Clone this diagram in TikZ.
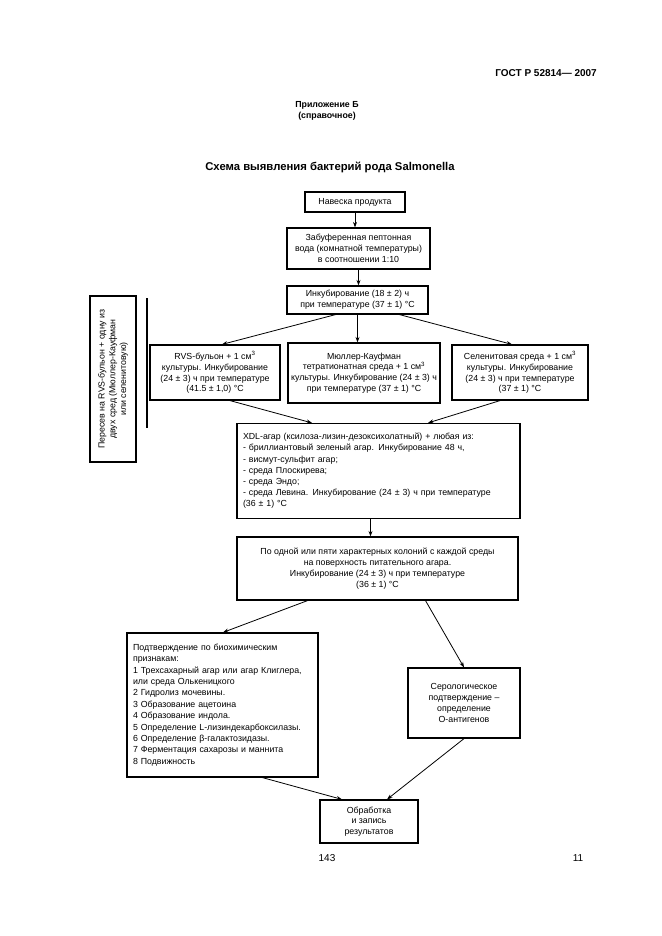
\documentclass[tikz,border=0pt]{standalone}
\usepackage{fontspec}
\setmainfont{Liberation Sans}
\usetikzlibrary{arrows.meta}
\begin{document}
\begin{tikzpicture}[x=1pt,y=-1pt,
 box/.style={draw,line width=1.2pt,inner sep=1.5pt,align=center,font=\fontsize{8.8}{10.8}\selectfont},
 arr/.style={line width=0.8pt,-{Stealth[length=5.5pt,width=4pt]}},
 plain/.style={inner sep=0pt}
]
\useasboundingbox[fill=white] (0,0) rectangle (661,936);

\node[plain,anchor=east,font=\bfseries\fontsize{10}{12}\selectfont] (hdr) at (597,73) {ГОСТ Р 52814— 2007};
\node[plain,align=center,font=\bfseries\fontsize{8.8}{11.5}\selectfont] (app) at (327,111) {Приложение Б\\(справочное)};
\node[plain,font=\bfseries\fontsize{11.3}{13}\selectfont] (ttl) at (330,167) {Схема выявления бактерий рода Salmonella};

\node[box,minimum width=100pt,minimum height=20pt] (b1) at (355,202) {Навеска продукта};
\node[box,minimum width=143pt,minimum height=41pt] (b2) at (358.5,248.5) {Забуференная пептонная\\вода (комнатной температуры)\\в соотношении 1:10};
\node[box,minimum width=141pt,minimum height=28pt] (b3) at (357.5,300) {Инкубирование (18 ± 2) ч\\при температуре (37 ± 1) °С};

\node[box,rotate=90,minimum width=166pt,minimum height=46pt] (side) at (113,379) {Пересев на RVS-бульон + одну из\\двух сред (Мюллер-Кауфман\\или селенитовую)};
\coordinate (lt) at (147,298);
\coordinate (lb) at (147,428);
\draw[line width=1.2pt] (lt) -- (lb);

\node[box,minimum width=130pt,minimum height=55pt] (rvs) at (215,372.5) {RVS-бульон + 1 см\textsuperscript{3}\\культуры. Инкубирование\\(24 ± 3) ч при температуре\\(41.5 ± 1,0) °С};
\node[box,minimum width=152pt,minimum height=60pt] (mk) at (364,373) {Мюллер-Кауфман\\тетратионатная среда + 1 см\textsuperscript{3}\\культуры. Инкубирование (24 ± 3) ч\\при температуре (37 ± 1) °С};
\node[box,minimum width=136pt,minimum height=55pt] (sel) at (520,372.5) {Селенитовая среда + 1 см\textsuperscript{3}\\культуры. Инкубирование\\(24 ± 3) ч при температуре\\(37 ± 1) °С};

\node[box,minimum width=283pt,minimum height=95pt,inner xsep=5pt,text width=271pt,align=left,font=\fontsize{8.8}{11.2}\selectfont] (xdl) at (378.5,471) {XDL-агар (ксилоза-лизин-дезоксихолатный) + любая из:\\- бриллиантовый зеленый агар. Инкубирование 48 ч,\\- висмут-сульфит агар;\\- среда Плоскирева;\\- среда Эндо;\\- среда Левина. Инкубирование (24 ± 3) ч при температуре\\(36 ± 1) °С};

\node[box,minimum width=281pt,minimum height=63pt] (b6) at (377.5,568.5) {По одной или пяти характерных колоний с каждой среды\\на поверхность питательного агара.\\Инкубирование (24 ± 3) ч при температуре\\(36 ± 1) °С};

\node[box,minimum width=191pt,minimum height=144pt,inner xsep=5pt,text width=179pt,align=left,font=\fontsize{8.8}{11.4}\selectfont] (bio) at (222.5,705) {Подтверждение по биохимическим\\признакам:\\1 Трехсахарный агар или агар Клиглера,\\или среда Олькеницкого\\2 Гидролиз мочевины.\\3 Образование ацетоина\\4 Образование индола.\\5 Определение L-лизиндекарбоксилазы.\\6 Определение β-галактозидазы.\\7 Ферментация сахарозы и маннита\\8 Подвижность};

\node[box,minimum width=112pt,minimum height=70pt] (ser) at (464,703) {Серологическое\\подтверждение –\\определение\\О-антигенов};

\node[box,minimum width=98pt,minimum height=43pt] (fin) at (369,821.5) {Обработка\\и запись\\результатов};

\node[plain,font=\fontsize{10}{12}\selectfont] (p1) at (327,858) {143};
\node[plain,font=\fontsize{10}{12}\selectfont] (p2) at (578,858) {11};

\draw[arr] (b1.south) -- (b1.south |- b2.north);
\draw[arr] (b2.south) -- (b2.south |- b3.north);
\draw[arr] ([xshift=-22pt]b3.south) -- ([xshift=7pt]rvs.north);
\draw[arr] (b3.south) -- (b3.south |- mk.north);
\draw[arr] ([xshift=42pt]b3.south) -- ([xshift=-8pt]sel.north);
\draw[arr] ([xshift=15pt]rvs.south) -- ([xshift=-66.5pt]xdl.north);
\draw[arr] ([xshift=-20pt]sel.south) -- ([xshift=49.5pt]xdl.north);
\draw[arr] ([xshift=-8pt]xdl.south) -- ([xshift=-8pt]xdl.south |- b6.north);
\draw[arr] ([xshift=-70pt]b6.south) -- ([xshift=0.5pt]bio.north);
\draw[arr] ([xshift=48pt]b6.south) -- (ser.north);
\draw[arr] ([xshift=40pt]bio.south) -- ([xshift=-27pt]fin.north);
\draw[arr] (ser.south) -- ([xshift=18pt]fin.north);
\end{tikzpicture}
\end{document}
